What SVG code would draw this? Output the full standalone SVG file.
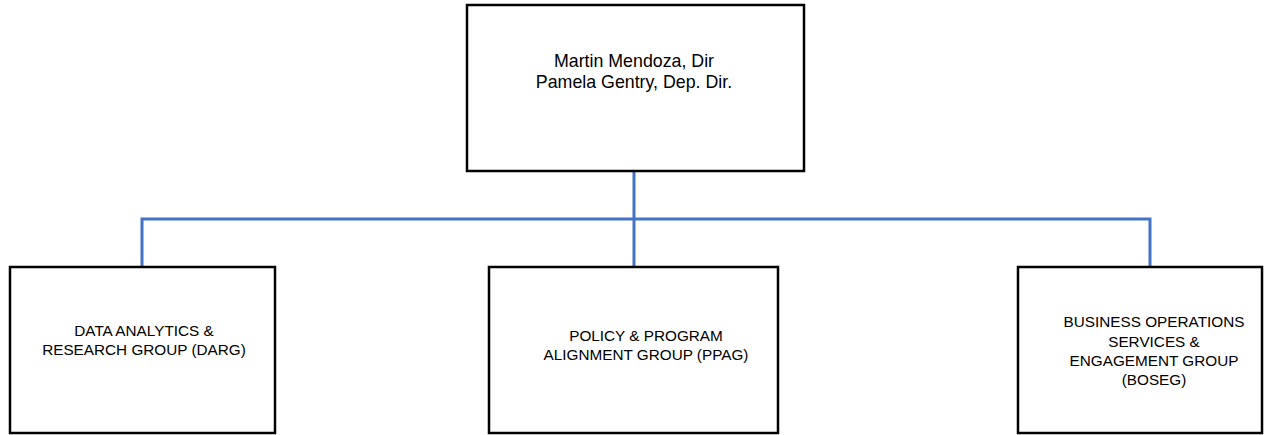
<svg xmlns="http://www.w3.org/2000/svg" width="1268" height="435" viewBox="0 0 1268 435">
<style>
.box{fill:#fff;stroke:#000;stroke-width:2.5}
.conn{fill:none;stroke:#4472C4;stroke-width:3}
text{font-family:"Liberation Sans",Arial,sans-serif;fill:#000;text-anchor:middle}
.t1{font-size:17.8px}
.t2{font-size:15.3px}
</style>
<rect width="1268" height="435" fill="#fff"/>
<g id="connectors">
<path class="conn" d="M634 171 V267"/>
<path class="conn" d="M142 267 V219 H1150 V267"/>
</g>
<g id="director">
<rect class="box" x="467" y="5" width="337" height="166"/>
<text class="t1" x="634" y="67">Martin Mendoza, Dir</text>
<text class="t1" x="634" y="88">Pamela Gentry, Dep. Dir.</text>
</g>
<g id="darg">
<rect class="box" x="10" y="267" width="265" height="166"/>
<text class="t2" x="144" y="336">DATA ANALYTICS &amp;</text>
<text class="t2" x="144" y="355">RESEARCH GROUP (DARG)</text>
</g>
<g id="ppag">
<rect class="box" x="489" y="267" width="289" height="166"/>
<text class="t2" x="646" y="341">POLICY &amp; PROGRAM</text>
<text class="t2" x="646" y="360">ALIGNMENT GROUP (PPAG)</text>
</g>
<g id="boseg">
<rect class="box" x="1018" y="267" width="244" height="166"/>
<text class="t2" x="1154" y="327">BUSINESS OPERATIONS</text>
<text class="t2" x="1154" y="347">SERVICES &amp;</text>
<text class="t2" x="1154" y="366">ENGAGEMENT GROUP</text>
<text class="t2" x="1154" y="385">(BOSEG)</text>
</g>
</svg>
